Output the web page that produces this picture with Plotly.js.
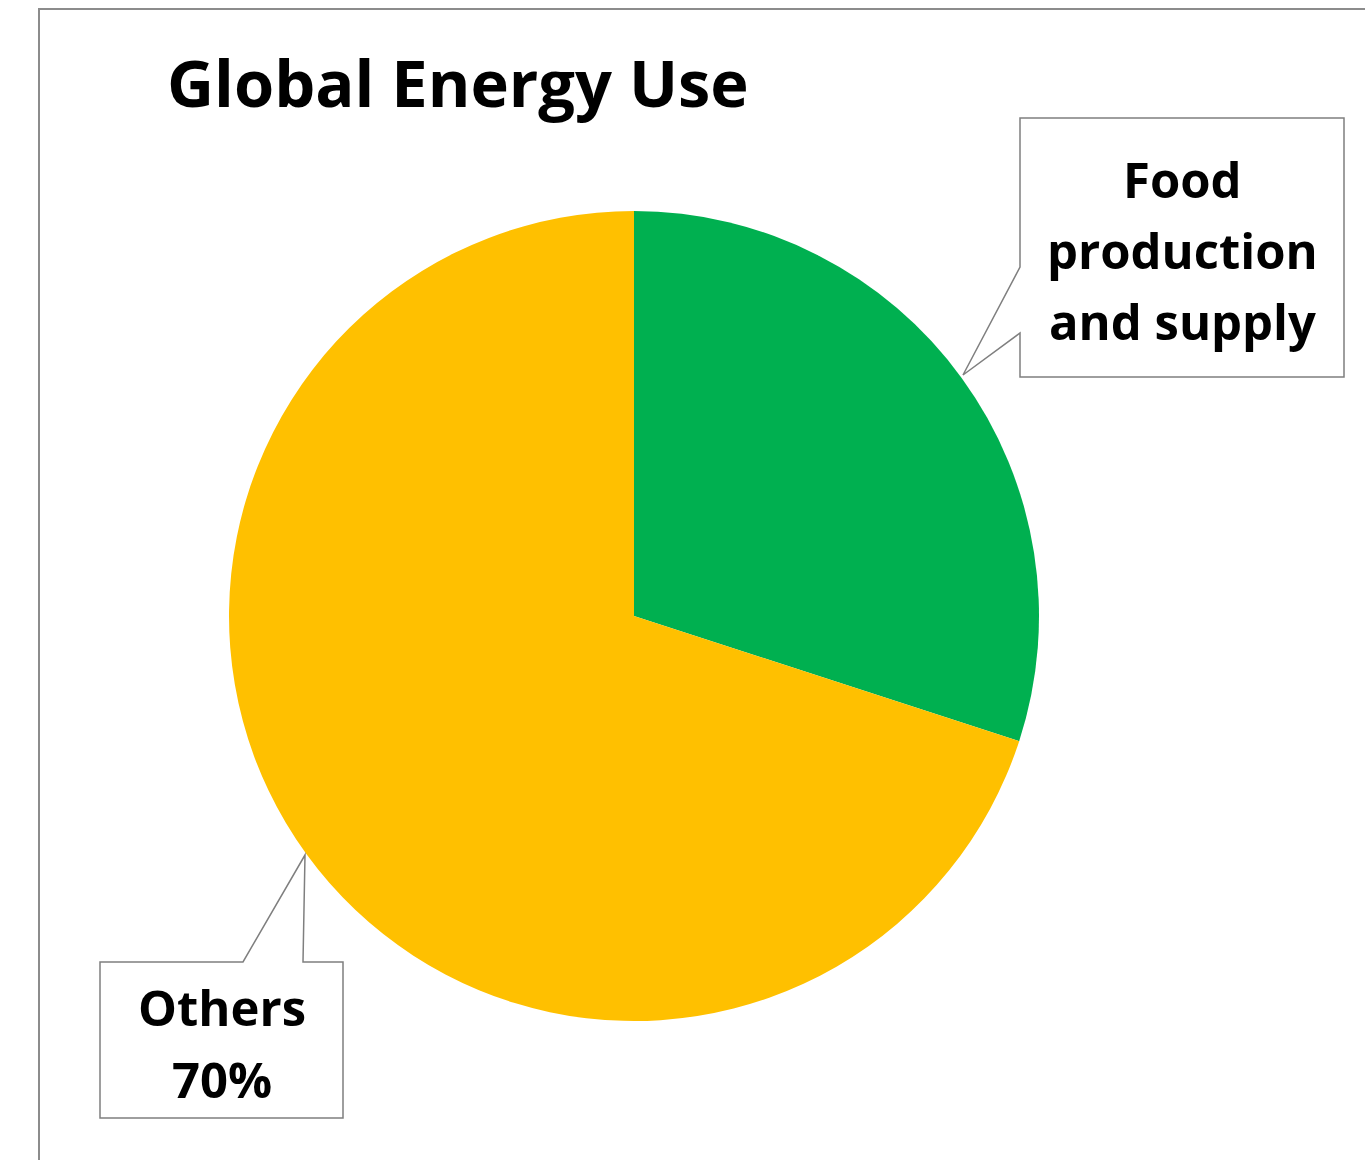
<!DOCTYPE html>
<html>
<head>
<meta charset="utf-8">
<script src="https://cdn.plot.ly/plotly-3.0.1.min.js"></script>
<style>html,body{margin:0;padding:0;background:#fff;}#chart{width:1365px;height:1160px;}</style>
</head>
<body>
<div id="chart"></div>
<script>
const labels = ["Food production and supply", "Others"];
const values = [30, 70];
const colors = ["#00B050", "#FFC000"];
const foodCalloutLines = ["Food", "production", "and supply"];
const othersCalloutLines = ["Others", "70%"];
const titleText = "Global Energy Use";

const W = 1365, H = 1160;
const px = x => x / W;
const py = y => 1 - y / H;
function path(pts) {
  return "M " + pts.map(p => px(p[0]) + "," + py(p[1])).join(" L ") + " Z";
}

const trace = {
  type: "pie",
  labels: labels,
  values: values,
  marker: {colors: colors, line: {width: 0}},
  sort: false,
  direction: "clockwise",
  rotation: 0,
  textinfo: "none",
  hoverinfo: "label+percent",
  domain: {x: [229 / W, 1039 / W], y: [1 - 1021 / H, 1 - 211 / H]}
};

const font = "Open Sans, Noto Sans, sans-serif";
const lineAnn = (txt, cx, cy) => ({
  xref: "paper", yref: "paper", x: px(cx), y: py(cy), xanchor: "center", yanchor: "middle",
  text: "<b>" + txt + "</b>", showarrow: false, align: "center",
  font: {family: font, size: 49, color: "#000"}
});

const annotations = [];
foodCalloutLines.forEach((t, i) => annotations.push(lineAnn(t, 1182, 179 + i * 71)));
othersCalloutLines.forEach((t, i) => annotations.push(lineAnn(t, 222, 1007 + i * 72)));

const layout = {
  width: W, height: H,
  margin: {l: 0, r: 0, t: 0, b: 0},
  paper_bgcolor: "#ffffff",
  showlegend: false,
  title: {
    text: "<b>" + titleText + "</b>",
    font: {family: font, size: 65, color: "#000"},
    x: 167 / W, xanchor: "left", xref: "paper",
    y: 1 - 84 / H, yanchor: "middle", yref: "container"
  },
  shapes: [
    {type: "rect", xref: "paper", yref: "paper", x0: px(39), x1: px(1380), y0: py(9), y1: py(1180),
     line: {color: "#8c8c8c", width: 2}, fillcolor: "rgba(0,0,0,0)", layer: "below"},
    {type: "path", xref: "paper", yref: "paper",
     path: path([[1020,118],[1344,118],[1344,377],[1020,377],[1020,333],[963,375],[1020,267]]),
     line: {color: "#7f7f7f", width: 1.5}, fillcolor: "#ffffff"},
    {type: "path", xref: "paper", yref: "paper",
     path: path([[100,962],[243,962],[305,855],[303,962],[343,962],[343,1118],[100,1118]]),
     line: {color: "#7f7f7f", width: 1.5}, fillcolor: "#ffffff"}
  ],
  annotations: annotations
};

Plotly.newPlot("chart", [trace], layout, {displayModeBar: false, staticPlot: true});
</script>
</body>
</html>
